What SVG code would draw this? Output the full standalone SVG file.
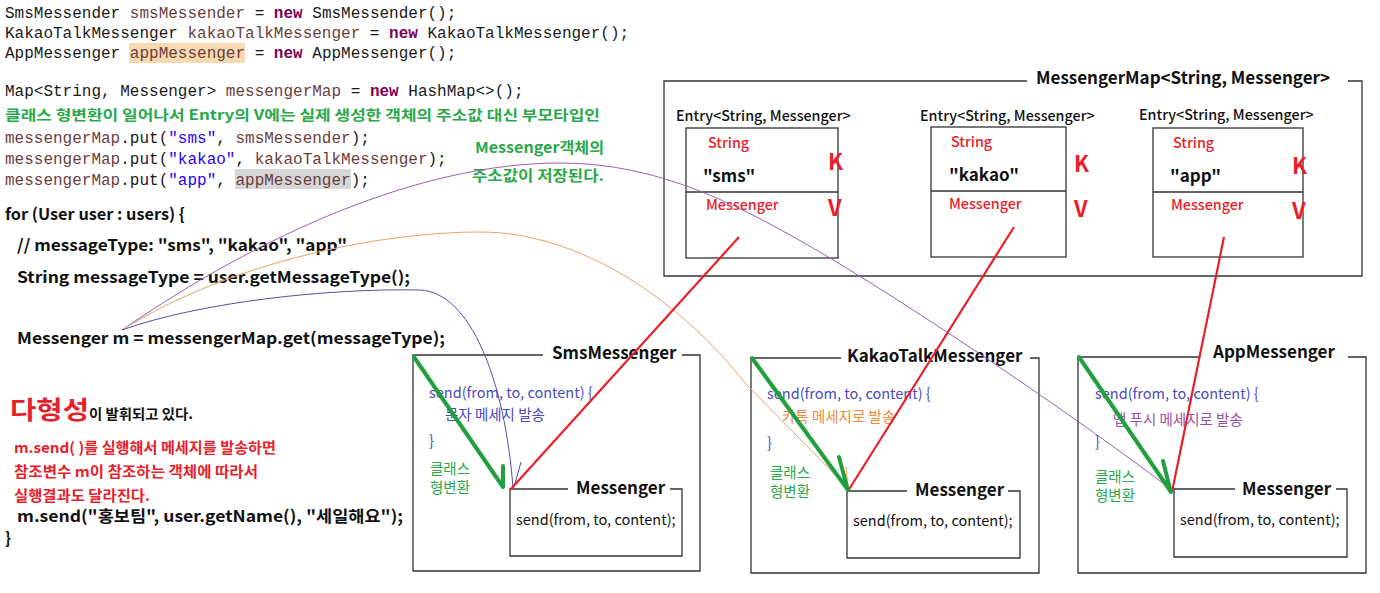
<svg xmlns="http://www.w3.org/2000/svg" width="1380" height="593" viewBox="0 0 1380 593">
<defs>
<style>
.mono{font-family:"Liberation Mono","Noto Sans CJK KR",monospace;font-size:16px;fill:#1a1a1a}
.var{fill:#6a3e3e}
.kw{fill:#7f0055;font-weight:bold}
.str{fill:#2a00ff}
.sans{font-family:"Noto Sans CJK KR","Noto Sans",sans-serif}
.b{font-weight:bold}
.code{font-family:"Noto Sans CJK KR","Noto Sans",sans-serif;font-weight:bold;font-size:16px;fill:#111}
.green{fill:#2aa84a}
.red{fill:#e8202a}
.box{fill:none;stroke:#333;stroke-width:1.3}
.title{font-family:"Noto Sans CJK KR","Noto Sans",sans-serif;font-weight:bold;font-size:17px;fill:#111}
.etitle{font-family:"Noto Sans CJK KR","Noto Sans",sans-serif;font-size:14.3px;fill:#111;font-weight:500}
.small{font-family:"Noto Sans CJK KR","Noto Sans",sans-serif;font-size:14.5px}
.lbl{font-family:"Noto Sans CJK KR","Noto Sans",sans-serif;font-size:14.3px;font-weight:500}
.kv{font-family:"Noto Sans CJK KR","Noto Sans",sans-serif;font-weight:bold;font-size:22px;fill:#e8202a}
.gline{stroke:#22a040;stroke-width:4;fill:none;stroke-linecap:round}
.rline{stroke:#e8202a;stroke-width:2.2;fill:none}
.thin{fill:none;stroke-width:1}
</style>
</defs>
<rect width="1380" height="593" fill="#fff"/>

<g id="code-top">
<rect x="129" y="43" width="116" height="20" fill="#f6d9b0"/>
<rect x="235" y="169" width="116" height="20" fill="#d6d6d6"/>
<text class="mono" x="5" y="18">SmsMessender <tspan class="var">smsMessender</tspan> = <tspan class="kw">new</tspan> SmsMessender();</text>
<text class="mono" x="5" y="38">KakaoTalkMessenger <tspan class="var">kakaoTalkMessenger</tspan> = <tspan class="kw">new</tspan> KakaoTalkMessenger();</text>
<text class="mono" x="5" y="58">AppMessenger <tspan class="var">appMessenger</tspan> = <tspan class="kw">new</tspan> AppMessenger();</text>
<text class="mono" x="5" y="96">Map&lt;String, Messenger&gt; <tspan class="var">messengerMap</tspan> = <tspan class="kw">new</tspan> HashMap&lt;&gt;();</text>
<text class="sans b green" x="5" y="120" font-size="14" textLength="595" lengthAdjust="spacingAndGlyphs">클래스 형변환이 일어나서 Entry의 V에는 실제 생성한 객체의 주소값 대신 부모타입인</text>
<text class="mono" x="5" y="143"><tspan class="var">messengerMap</tspan>.put(<tspan class="str">"sms"</tspan>, <tspan class="var">smsMessender</tspan>);</text>
<text class="mono" x="5" y="164"><tspan class="var">messengerMap</tspan>.put(<tspan class="str">"kakao"</tspan>, <tspan class="var">kakaoTalkMessenger</tspan>);</text>
<text class="mono" x="5" y="185"><tspan class="var">messengerMap</tspan>.put(<tspan class="str">"app"</tspan>, <tspan class="var">appMessenger</tspan>);</text>
<text class="sans b green" x="475" y="153" font-size="15" textLength="129" lengthAdjust="spacingAndGlyphs">Messenger객체의</text>
<text class="sans b green" x="472" y="181" font-size="15" textLength="132" lengthAdjust="spacingAndGlyphs">주소값이 저장된다.</text>
</g>

<g id="code-loop">
<text class="code" x="5" y="220" textLength="180" lengthAdjust="spacingAndGlyphs">for (User user : users) {</text>
<text class="code" x="17" y="251" textLength="330" lengthAdjust="spacingAndGlyphs">// messageType: "sms", "kakao", "app"</text>
<text class="code" x="17" y="283" textLength="393" lengthAdjust="spacingAndGlyphs">String messageType = user.getMessageType();</text>
<text class="code" x="17" y="344" textLength="428" lengthAdjust="spacingAndGlyphs">Messenger m = messengerMap.get(messageType);</text>
<text class="sans b red" x="10" y="419" font-size="25" textLength="79" lengthAdjust="spacingAndGlyphs">다형성</text>
<text class="sans b" x="89" y="419" font-size="14" fill="#111" textLength="104" lengthAdjust="spacingAndGlyphs">이 발휘되고 있다.</text>
<text class="sans b red" x="14" y="453" font-size="14.5" textLength="262" lengthAdjust="spacingAndGlyphs">m.send( )를 실행해서 메세지를 발송하면</text>
<text class="sans b red" x="14" y="477" font-size="14.5" textLength="244" lengthAdjust="spacingAndGlyphs">참조변수 m이 참조하는 객체에 따라서</text>
<text class="sans b red" x="14" y="501" font-size="14.5" textLength="136" lengthAdjust="spacingAndGlyphs">실행결과도 달라진다.</text>
<text class="code" x="17" y="522" textLength="386" lengthAdjust="spacingAndGlyphs">m.send("홍보팀", user.getName(), "세일해요");</text>
<text class="code" x="5" y="544">}</text>
</g>

<g id="messenger-map">
<path class="box" d="M1027,81 H664 V276 H1362 V81 H1348"/>
<text class="title" x="1036" y="84">MessengerMap&lt;String, Messenger&gt;</text>
</g>

<g id="entry-sms">
<text class="etitle" x="676" y="121">Entry&lt;String, Messenger&gt;</text>
<rect class="box" x="686" y="128" width="152" height="130"/>
<line class="box" x1="686" y1="192" x2="838" y2="192"/>
<text class="lbl red" x="708" y="148">String</text>
<text class="sans b" x="703" y="182" font-size="17" fill="#111">"sms"</text>
<text class="lbl red" x="706" y="210">Messenger</text>
<text class="kv" x="828" y="170">K</text>
<text class="kv" x="828" y="216">V</text>
</g>

<g id="entry-kakao">
<text class="etitle" x="920" y="121">Entry&lt;String, Messenger&gt;</text>
<rect class="box" x="931" y="127" width="135" height="130"/>
<line class="box" x1="931" y1="191" x2="1066" y2="191"/>
<text class="lbl red" x="951" y="147">String</text>
<text class="sans b" x="949" y="181" font-size="17" fill="#111">"kakao"</text>
<text class="lbl red" x="949" y="209">Messenger</text>
<text class="kv" x="1074" y="172">K</text>
<text class="kv" x="1074" y="217">V</text>
</g>

<g id="entry-app">
<text class="etitle" x="1139" y="120">Entry&lt;String, Messenger&gt;</text>
<rect class="box" x="1153" y="128" width="150" height="129"/>
<line class="box" x1="1153" y1="192" x2="1303" y2="192"/>
<text class="lbl red" x="1173" y="148">String</text>
<text class="sans b" x="1170" y="182" font-size="17" fill="#111">"app"</text>
<text class="lbl red" x="1171" y="210">Messenger</text>
<text class="kv" x="1292" y="174">K</text>
<text class="kv" x="1292" y="219">V</text>
</g>

<g id="sms-messenger">
<path class="box" d="M543,355 H413 V571 H700 V355 H682"/>
<text class="title" x="552" y="359">SmsMessenger</text>
<text class="small" x="429" y="398" fill="#4a4ac0">send(from, to, content) {</text>
<text class="small" x="445" y="420" fill="#4a4ac0">문자 메세지 발송</text>
<text class="small" x="429" y="446" fill="#4a4ac0">}</text>
<text class="small green" x="430" y="474">클래스</text>
<text class="small green" x="430" y="493">형변환</text>
<path class="box" d="M568,489 H510 V556 H682 V489 H670"/>
<text class="title" x="576" y="494">Messenger</text>
<text class="small" x="516" y="525" fill="#111">send(from, to, content);</text>
</g>

<g id="kakao-messenger">
<path class="box" d="M841,358 H751 V573 H1039 V358 H1030"/>
<text class="title" x="847" y="362">KakaoTalkMessenger</text>
<text class="small" x="767" y="399" fill="#4a4ac0">send(from, to, content) {</text>
<text class="small" x="782" y="422" fill="#f08a3c">카톡 메세지로 발송</text>
<text class="small" x="767" y="448" fill="#4a4ac0">}</text>
<text class="small green" x="770" y="478">클래스</text>
<text class="small green" x="770" y="497">형변환</text>
<path class="box" d="M907,491 H847 V558 H1020 V491 H1008"/>
<text class="title" x="915" y="496">Messenger</text>
<text class="small" x="853" y="526" fill="#111">send(from, to, content);</text>
</g>

<g id="app-messenger">
<path class="box" d="M1200,357 H1078 V573 H1366 V357 H1348"/>
<text class="title" x="1213" y="358">AppMessenger</text>
<text class="small" x="1095" y="399" fill="#4a4ac0">send(from, to, content) {</text>
<text class="small" x="1113" y="425" fill="#9b4fa0">앱 푸시 메세지로 발송</text>
<text class="small" x="1095" y="447" fill="#4a4ac0">}</text>
<text class="small green" x="1095" y="482">클래스</text>
<text class="small green" x="1095" y="501">형변환</text>
<path class="box" d="M1235,489 H1174 V557 H1347 V489 H1336"/>
<text class="title" x="1242" y="495">Messenger</text>
<text class="small" x="1180" y="525" fill="#111">send(from, to, content);</text>
</g>

<g id="connectors">
<path class="thin" stroke="#9b5fb0" d="M122,330 C260,235 420,163 560,163 C660,163 740,205 830,258 C930,318 1080,420 1172,490"/>
<path class="thin" stroke="#f0a060" d="M122,330 C230,262 380,232 480,232 C580,232 680,300 745,383 L848,488"/>
<path class="thin" stroke="#5050a8" d="M122,330 C200,302 330,288 420,290 C470,292 505,380 513,488"/>
<path class="thin" stroke="#5050a8" d="M521,462 L514,487"/>
<path class="thin" stroke="#f0a060" d="M846,467 L848,487"/>
<path class="thin" stroke="#9b5fb0" d="M1166,470 L1171,488"/>
<path class="rline" d="M739,237 L510,490"/>
<path class="rline" d="M1014,227 L848,491"/>
<path class="rline" d="M1224,237 L1172,492"/>
<path class="gline" d="M414,357 L503,487 M503,466 L503,487"/>
<path class="gline" d="M752,358 L848,490 M839,457 L847,487"/>
<path class="gline" d="M1079,357 L1171,492 M1163,461 L1170,489"/>
</g>
</svg>
